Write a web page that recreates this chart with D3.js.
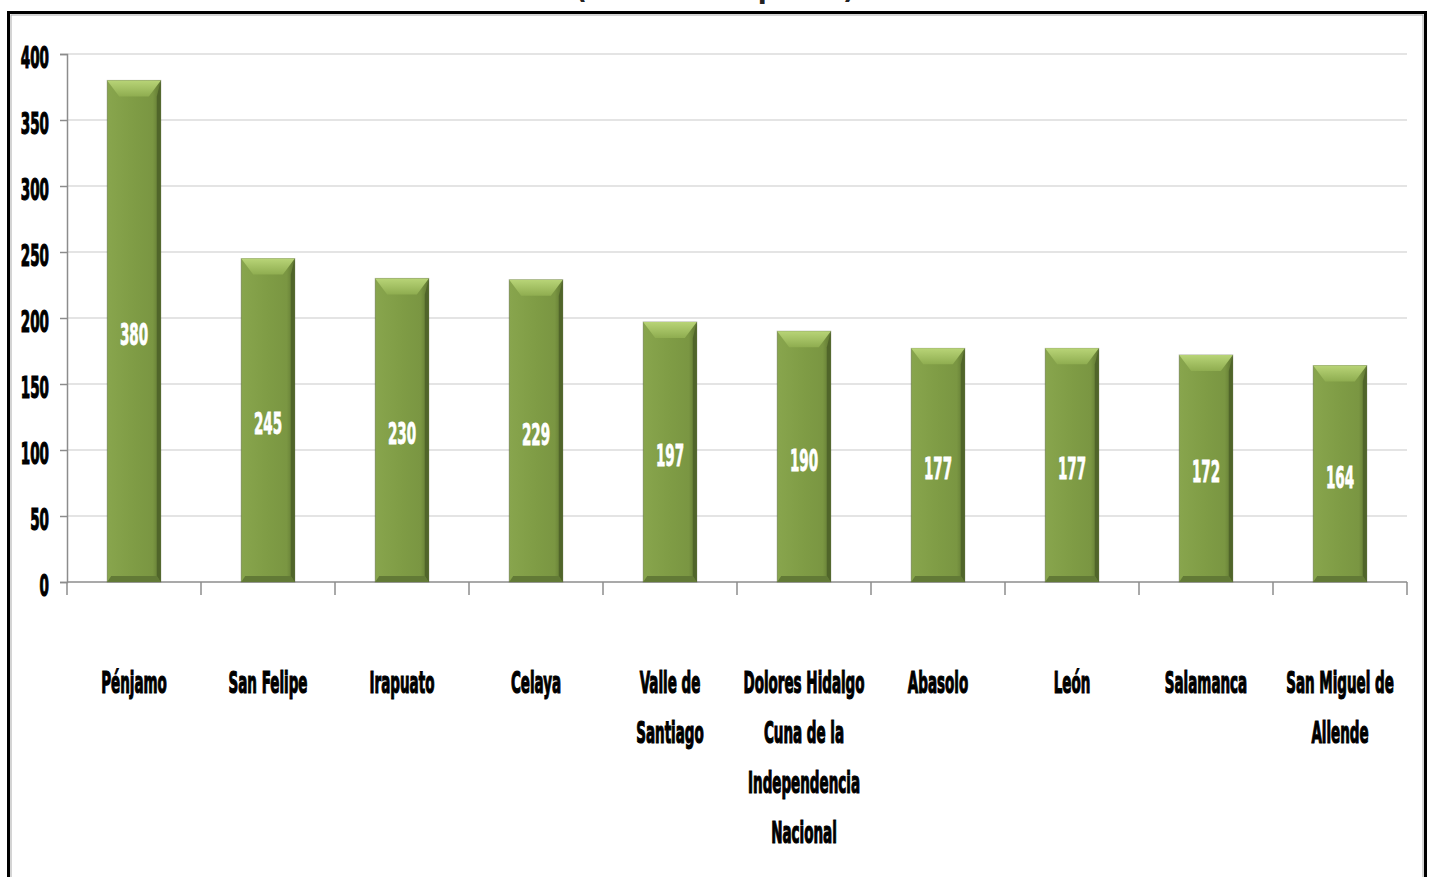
<!DOCTYPE html>
<html>
<head>
<meta charset="utf-8">
<script src="https://cdn.jsdelivr.net/npm/d3@7"></script>
<style>
  body { margin: 0; background: #fff; }
  svg { display: block; }
  .lbl { font-family: "DejaVu Sans Condensed", "DejaVu Sans", sans-serif; font-weight: bold; font-size: 30px; }
</style>
</head>
<body>
<div id="chart"></div>
<script>

// data
var municipios = ["Pénjamo", "San Felipe", "Irapuato", "Celaya", "Valle de Santiago",
                  "Dolores Hidalgo Cuna de la Independencia Nacional", "Abasolo", "León",
                  "Salamanca", "San Miguel de Allende"];
var valores = [380, 245, 230, 229, 197, 190, 177, 177, 172, 164];
// how the category labels wrap
var lineas = [["Pénjamo"], ["San Felipe"], ["Irapuato"], ["Celaya"], ["Valle de", "Santiago"],
              ["Dolores Hidalgo", "Cuna de la", "Independencia", "Nacional"], ["Abasolo"], ["León"],
              ["Salamanca"], ["San Miguel de", "Allende"]];
var yTicks = [0, 50, 100, 150, 200, 250, 300, 350, 400];
var titulo = "(Número de pozos)";

var W = 1429, H = 877;
var sx = 0.5;   // horizontal squeeze of the condensed labels

var svg = d3.select("#chart").append("svg")
  .attr("width", W).attr("height", H);

var defs = svg.append("defs");
var gBody = defs.append("linearGradient").attr("id", "barBody")
  .attr("x1", "0").attr("x2", "1").attr("y1", "0").attr("y2", "0");
gBody.append("stop").attr("offset", "0").attr("stop-color", "#88a54d");
gBody.append("stop").attr("offset", "0.5").attr("stop-color", "#7f9c45");
gBody.append("stop").attr("offset", "0.85").attr("stop-color", "#7a9642");
gBody.append("stop").attr("offset", "1").attr("stop-color", "#5e7531");

var gTop = defs.append("linearGradient").attr("id", "barTop")
  .attr("x1", "0").attr("x2", "0").attr("y1", "0").attr("y2", "1");
gTop.append("stop").attr("offset", "0").attr("stop-color", "#b8d477");
gTop.append("stop").attr("offset", "1").attr("stop-color", "#8fad50");

// frame
svg.append("rect").attr("x", 8.5).attr("y", 12.5).attr("width", 1417).attr("height", 900)
  .attr("fill", "none").attr("stroke", "#000").attr("stroke-width", 3);
svg.append("rect").attr("x", 11).attr("y", 15).attr("width", 1412).attr("height", 900)
  .attr("fill", "none").attr("stroke", "#aaa").attr("stroke-width", 1);

// title, almost entirely above the window (as in the source image)
svg.append("text")
  .attr("x", 575).attr("y", -2)
  .attr("textLength", 280).attr("lengthAdjust", "spacingAndGlyphs")
  .style("font-family", "DejaVu Sans, sans-serif")
  .style("font-weight", "bold").style("font-size", "30px")
  .attr("fill", "#222")
  .text(titulo);

var x = d3.scaleBand().domain(municipios).range([67, 1407])
  .paddingInner(0.6).paddingOuter(0.3);
var y = d3.scaleLinear().domain([0, 400]).range([582, 54]);

// gridlines
svg.append("g").selectAll("line")
  .data(yTicks.filter(d => d > 0))
  .enter().append("line")
    .attr("x1", 67).attr("x2", 1407)
    .attr("y1", d => y(d)).attr("y2", d => y(d))
    .attr("stroke", "#e4e4e4").attr("stroke-width", 2);

// y axis
var yAxis = svg.append("g").attr("transform", "translate(67,0)")
  .call(d3.axisLeft(y).tickValues(yTicks).tickSize(7).tickFormat(""));
yAxis.select(".domain").attr("stroke", "#8c8c8c").attr("stroke-width", 1.5);
yAxis.selectAll(".tick line").attr("stroke", "#8c8c8c").attr("stroke-width", 1.5);

svg.append("g").selectAll("g")
  .data(yTicks)
  .enter().append("g")
    .attr("transform", d => "translate(49," + (y(d) + 14) + ") scale(" + sx + ",1)")
  .append("text")
    .attr("class", "lbl")
    .attr("text-anchor", "end")
    .attr("fill", "#000")
    .attr("stroke", "#000").attr("stroke-width", 1.2)
    .text(d => d);

// x axis line and ticks between categories
var step = x.step();
var bounds = d3.range(municipios.length + 1).map(i => 67 + i * step);
svg.append("line").attr("x1", 67).attr("x2", 1407).attr("y1", y(0)).attr("y2", y(0))
  .attr("stroke", "#8c8c8c").attr("stroke-width", 1.5);
svg.append("g").selectAll("line")
  .data(bounds)
  .enter().append("line")
    .attr("x1", d => d).attr("x2", d => d)
    .attr("y1", y(0)).attr("y2", y(0) + 13)
    .attr("stroke", "#8c8c8c").attr("stroke-width", 1.5);

// bars with bevel
var bw = x.bandwidth();
var bars = svg.append("g").selectAll("g")
  .data(valores)
  .enter().append("g")
    .attr("transform", (d, i) => "translate(" + x(municipios[i]) + ",0)");

bars.append("rect")
  .attr("x", 0).attr("y", d => y(d))
  .attr("width", bw).attr("height", d => y(0) - y(d))
  .attr("fill", "url(#barBody)")
  .attr("stroke", "rgba(60,70,40,0.35)").attr("stroke-width", 1);

var bev = 16, side = 4;
bars.append("path")
  .attr("d", d => "M0," + y(d) + "L" + bw + "," + y(d) + "L" + (bw - side * 3) + "," + (y(d) + bev) +
                  "L" + (side * 3) + "," + (y(d) + bev) + "Z")
  .attr("fill", "url(#barTop)");
bars.append("path")
  .attr("d", d => "M" + bw + "," + y(d) + "L" + bw + "," + y(0) + "L" + (bw - side) + "," + (y(0) - 6) +
                  "L" + (bw - side) + "," + (y(d) + bev) + "Z")
  .attr("fill", "#50652a");
bars.append("path")
  .attr("d", d => "M0," + y(0) + "L" + bw + "," + y(0) + "L" + (bw - side) + "," + (y(0) - 6) +
                  "L" + side + "," + (y(0) - 6) + "Z")
  .attr("fill", "#627a36");

// value labels in the middle of the bars
bars.append("g")
  .attr("transform", d => "translate(" + (bw / 2) + "," + (y(d / 2) + 14) + ") scale(" + sx + ",1)")
  .append("text")
    .attr("class", "lbl")
    .attr("text-anchor", "middle")
    .attr("fill", "#fff")
    .attr("stroke", "#fff").attr("stroke-width", 0.8)
    .text(d => d);

// category labels
var cats = svg.append("g").selectAll("g")
  .data(lineas)
  .enter().append("g")
    .attr("transform", (d, i) => "translate(" + (x(municipios[i]) + bw / 2) + ",693) scale(" + sx + ",1)");
cats.selectAll("text")
  .data(d => d)
  .enter().append("text")
    .attr("class", "lbl")
    .attr("text-anchor", "middle")
    .attr("y", (d, j) => j * 50)
    .attr("fill", "#000")
    .attr("stroke", "#000").attr("stroke-width", 1.2)
    .text(d => d);

</script>
</body>
</html>
